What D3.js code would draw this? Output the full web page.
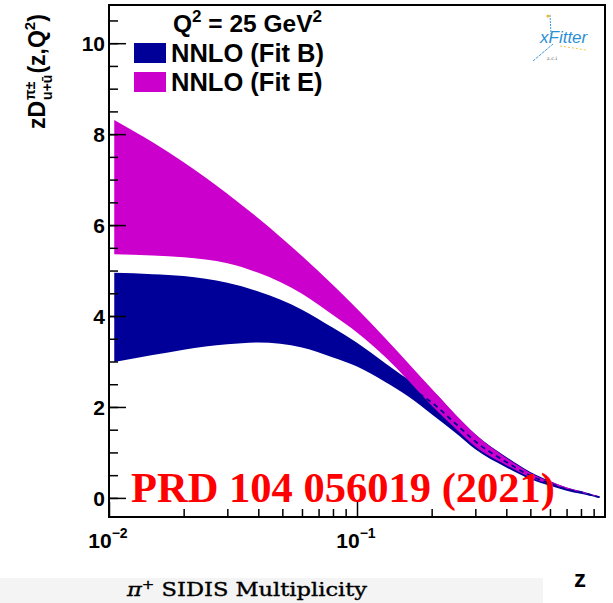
<!DOCTYPE html>
<html><head><meta charset="utf-8">
<script src="https://cdn.jsdelivr.net/npm/d3@7"></script>
<style>body{margin:0;background:#fff;} svg{display:block;}</style>
</head><body>
<script>
// ---- data ----
const zValues    = [0.0105, 0.015, 0.02, 0.03, 0.04, 0.06, 0.08, 0.1, 0.13, 0.16, 0.2, 0.25, 0.3, 0.4, 0.5, 0.6, 0.7, 0.8, 0.95];
const fitEUpper  = [8.31, 7.82, 7.38, 6.69, 6.15, 5.32, 4.68, 4.16, 3.51, 2.98, 2.40, 1.83, 1.40, 0.88, 0.55, 0.36, 0.23, 0.14, 0.03];
const fitELower  = [5.36, 5.33, 5.29, 5.16, 4.95, 4.49, 4.02, 3.64, 3.10, 2.60, 2.03, 1.52, 1.13, 0.72, 0.45, 0.31, 0.20, 0.12, 0.02];
const fitBUpper  = [4.95, 4.92, 4.88, 4.73, 4.54, 4.14, 3.74, 3.41, 2.96, 2.62, 2.37, 1.82, 1.40, 0.90, 0.57, 0.37, 0.23, 0.15, 0.03];
const fitBLower  = [2.99, 3.14, 3.26, 3.38, 3.42, 3.31, 3.09, 2.89, 2.55, 2.24, 1.84, 1.43, 1.07, 0.67, 0.41, 0.27, 0.16, 0.09, 0.00];
const fitBCentral= [3.97, 4.03, 4.07, 4.05, 3.98, 3.73, 3.42, 3.15, 2.76, 2.45, 2.10, 1.63, 1.24, 0.79, 0.49, 0.32, 0.19, 0.12, 0.015];

const yMajorTicks = [0, 2, 4, 6, 8, 10];
const yTickLabels = ["0", "2", "4", "6", "8", "10"];
const yMinorTicks = d3.range(0, 10.51, 0.5);
const xMajorTicks = [0.01, 0.1];
const xTickExponents = ["\u22122", "\u22121"];
const xMinorTicks = [0.02,0.03,0.04,0.05,0.06,0.07,0.08,0.09,0.2,0.3,0.4,0.5,0.6,0.7,0.8,0.9];
const legendLabels = ["NNLO (Fit B)", "NNLO (Fit E)"];
const legendColors = ["#000099", "#cc00cc"];

// ---- layout ----
const W = 613, H = 603;
const L = 109, R = 605, T = 5, B = 517;
const svg = d3.select("body").append("svg").attr("width", W).attr("height", H);
const x = d3.scaleLog().domain([0.01, 1]).range([L, R]);
const y = d3.scaleLinear().domain([-0.42, 10.84]).range([B, T]);
const FONT = "'Liberation Sans', Arial, Helvetica, sans-serif";

// faint grey caption strip
svg.append("rect").attr("x", 0).attr("y", 578).attr("width", 543).attr("height", 25).attr("fill", "#f4f4f4");

// ---- bands ----
const area = d3.area().x(d => x(d.z)).y0(d => y(d.lo)).y1(d => y(d.hi)).curve(d3.curveMonotoneX);
const bandB = zValues.map((z, i) => ({z, lo: fitBLower[i], hi: fitBUpper[i]}));
const bandE = zValues.map((z, i) => ({z, lo: fitELower[i], hi: fitEUpper[i]}));
svg.append("path").datum(bandB).attr("d", area).attr("fill", legendColors[0]);
svg.append("path").datum(bandE).attr("d", area).attr("fill", legendColors[1]);
const line = d3.line().x((d, i) => x(zValues[i])).y(d => y(d)).curve(d3.curveMonotoneX);
svg.append("path").datum(fitBCentral).attr("d", line).attr("fill", "none")
  .attr("stroke", "#000099").attr("stroke-width", 1.8).attr("stroke-dasharray", "5,4");

// ---- axes ticks ----
const gy1 = svg.append("g").attr("transform", `translate(${L},0)`)
  .call(d3.axisRight(y).tickValues(yMinorTicks).tickSize(9).tickFormat(""));
const gy2 = svg.append("g").attr("transform", `translate(${L},0)`)
  .call(d3.axisRight(y).tickValues(yMajorTicks).tickSize(17).tickFormat(""));
const gx1 = svg.append("g").attr("transform", `translate(0,${B})`)
  .call(d3.axisTop(x).tickValues(xMinorTicks).tickSize(8).tickFormat(""));
const gx2 = svg.append("g").attr("transform", `translate(0,${B})`)
  .call(d3.axisTop(x).tickValues(xMajorTicks).tickSize(15).tickFormat(""));
[gy1, gy2, gx1, gx2].forEach(g => {
  g.select(".domain").remove();
  g.selectAll(".tick line").attr("stroke", "#000").attr("stroke-width", 1.5);
});

// frame
svg.append("rect").attr("x", L).attr("y", T).attr("width", R - L).attr("height", B - T)
  .attr("fill", "none").attr("stroke", "#000").attr("stroke-width", 2);

// y tick labels
svg.selectAll(".ylab").data(yMajorTicks).enter().append("text")
  .attr("x", 105).attr("y", d => y(d) + 8).attr("text-anchor", "end")
  .attr("font-family", FONT).attr("font-weight", "bold").attr("font-size", 21)
  .text((d, i) => yTickLabels[i]);

// x tick labels
xMajorTicks.forEach((v, i) => {
  const t = svg.append("text").attr("x", x(v) - 1).attr("y", 548).attr("text-anchor", "middle")
    .attr("font-family", FONT).attr("font-weight", "bold").attr("font-size", 21);
  t.append("tspan").text("10");
  t.append("tspan").attr("dy", -10).attr("font-size", 14).text(xTickExponents[i]);
});

// x title
svg.append("text").attr("x", 586).attr("y", 587).attr("text-anchor", "end")
  .attr("font-family", FONT).attr("font-weight", "bold").attr("font-size", 24).text("z");

// y title (rotated)
const yt = svg.append("g").attr("transform", "translate(45,129) rotate(-90)")
  .attr("font-family", FONT).attr("font-weight", "bold");
const t1 = yt.append("text").attr("x", 0).attr("y", 0).attr("font-size", 23).text("zD");
const w1 = t1.node().getComputedTextLength();
const sup = yt.append("text").attr("x", w1 + 1).attr("y", -10).attr("font-size", 14).text("\u03c0\u00b1");
const sub = yt.append("text").attr("x", w1 + 1).attr("y", 7).attr("font-size", 14).text("u+\u016b");
const w2 = Math.max(sup.node().getComputedTextLength(), sub.node().getComputedTextLength());
const t3 = yt.append("text").attr("x", w1 + w2 + 2).attr("y", 0).attr("font-size", 23);
t3.append("tspan").text("(z,Q");
t3.append("tspan").attr("dy", -10).attr("font-size", 15).text("2");
t3.append("tspan").attr("dy", 10).text(")");

// legend
const lg = svg.append("g").attr("font-family", FONT).attr("font-weight", "bold");
const hdr = lg.append("text").attr("x", 173).attr("y", 32).attr("font-size", 24.5);
hdr.append("tspan").text("Q");
hdr.append("tspan").attr("dy", -10).attr("font-size", 17).text("2");
hdr.append("tspan").attr("dy", 10).text(" = 25 GeV");
hdr.append("tspan").attr("dy", -10).attr("font-size", 17).text("2");
legendLabels.forEach((lab, i) => {
  lg.append("rect").attr("x", 134).attr("y", 43 + i * 29).attr("width", 32).attr("height", 20)
    .attr("fill", legendColors[i]);
  lg.append("text").attr("x", 171).attr("y", 62 + i * 28.5).attr("font-size", 25.5).text(lab);
});

// xFitter logo
const logo = svg.append("g");
logo.append("line").attr("x1", 550).attr("y1", 15).attr("x2", 551).attr("y2", 34)
  .attr("stroke", "#3a9ad9").attr("stroke-width", 1).attr("stroke-dasharray", "2,1");
logo.append("line").attr("x1", 533).attr("y1", 61).attr("x2", 553).attr("y2", 44)
  .attr("stroke", "#3a9ad9").attr("stroke-width", 1).attr("stroke-dasharray", "3,1");
logo.append("line").attr("x1", 560).attr("y1", 46).attr("x2", 586).attr("y2", 50)
  .attr("stroke", "#f2c84b").attr("stroke-width", 1).attr("stroke-dasharray", "2,2");
logo.append("circle").attr("cx", 548).attr("cy", 16).attr("r", 1.6).attr("fill", "#f2b632");
logo.append("text").attr("x", 540).attr("y", 43).attr("font-family", FONT).attr("font-style", "italic")
  .attr("font-size", 17).attr("fill", "#2b8fd6").text("xFitter");
logo.append("text").attr("x", 547).attr("y", 60).attr("font-family", "'DejaVu Serif', serif")
  .attr("font-size", 5).attr("fill", "#555").text("z.c.i");

// red reference text
svg.append("text").attr("x", 131).attr("y", 502)
  .attr("font-family", "'Liberation Serif', 'Times New Roman', serif").attr("font-weight", "bold")
  .attr("font-size", 42).attr("fill", "#ff0000").attr("textLength", 424).attr("lengthAdjust", "spacingAndGlyphs")
  .text("PRD 104 056019 (2021)");

// caption
const cap = svg.append("text").attr("x", 127).attr("y", 596)
  .attr("font-family", "'DejaVu Serif', serif").attr("font-size", 18).attr("fill", "#000")
  .attr("stroke", "#000").attr("stroke-width", 0.35)
  .attr("textLength", 240).attr("lengthAdjust", "spacingAndGlyphs");
cap.append("tspan").attr("font-style", "italic").text("\u03c0");
cap.append("tspan").attr("dy", -7).attr("font-size", 12).text("+");
cap.append("tspan").attr("dy", 7).text(" SIDIS Multiplicity");
</script>
</body></html>
